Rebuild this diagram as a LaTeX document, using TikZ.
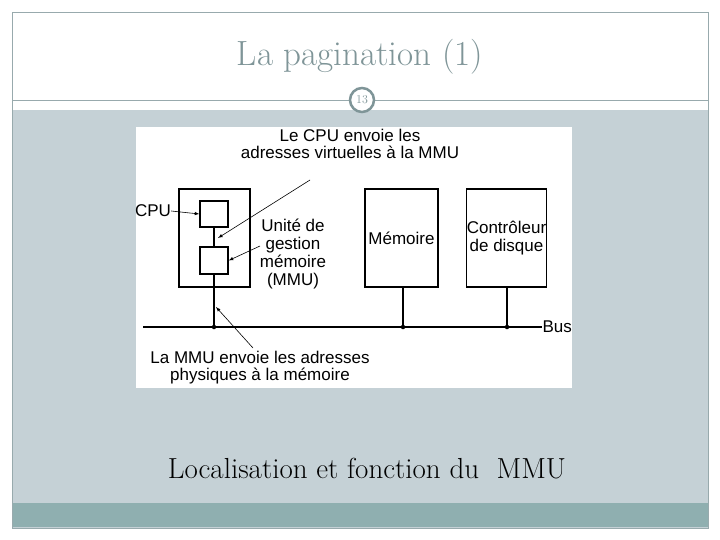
\documentclass[tikz,border=0pt]{standalone}
\usepackage{fontspec}
\newfontfamily\sans{Liberation Sans}
\begin{document}
\begin{tikzpicture}[x=1pt,y=-1pt,
 bx/.style={draw,line width=1.3pt},
 t/.style={font=\sans\fontsize{17}{17}\selectfont,align=center,inner sep=0pt},
 ln/.style={line width=1.3pt},
 ar/.style={-latex,line width=0.6pt},
 dot/.style={circle,fill,inner sep=1.6pt}]
\definecolor{panel}{HTML}{C5D1D6}
\definecolor{band}{HTML}{8FAFB0}
\definecolor{tgray}{HTML}{7F9598}
\useasboundingbox (0,0) rectangle (720,540);
\fill[white] (0,0) rectangle (720,540);
\fill[panel] (12,110) rectangle (708,528);
\fill[band] (12,503) rectangle (708,527);
\draw[tgray!80] (12,12) rectangle (708,528);
\draw[tgray!80] (12,100) -- (708,100);
\node[circle,draw=tgray,line width=2.5pt,fill=white,minimum size=24pt,inner sep=0pt,font=\fontsize{12}{12}\selectfont,text=tgray] (pg) at (362,100) {13};
\node[text=tgray,font=\fontsize{35}{38}\selectfont] (title) at (360,57) {La pagination (1)};
\fill[white] (136,127) rectangle (572,388);
\node[bx,minimum width=71pt,minimum height=98pt] (outer) at (214.5,238) {};
\node[bx,minimum width=28pt,minimum height=26pt,inner sep=0pt] (cpu) at (214,214) {};
\node[bx,minimum width=28pt,minimum height=27pt,inner sep=0pt] (mmu) at (214,260.5) {};
\node[bx,minimum width=73pt,minimum height=98pt,t] (mem) at (401.5,238) {Mémoire};
\node[bx,minimum width=73pt,minimum height=98pt,t] (ctl) at (506.5,238) {Contrôleur\\[1pt]de disque};
\coordinate (bl) at (143,327);
\node[t,anchor=east] (bus) at (572,327) {Bus};
\draw[ln] (bl) -- (bus.west);
\node[dot] (d1) at (214,327) {};
\node[dot] (d2) at (403,327) {};
\node[dot] (d3) at (507,327) {};
\draw[ln] (mmu.south) -- (d1);
\draw[ln] (mem.south -| d2) -- (d2);
\draw[ln] (ctl.south -| d3) -- (d3);
\draw[ln] (cpu.south) -- (mmu.north);
\node[t] (cpul) at (153,211) {CPU};
\draw[ar] (cpul.east) -- (cpu.west);
\node[t] (top) at (350,144) {Le CPU envoie les\\[0pt]adresses virtuelles à la MMU};
\draw[ar] (310,180) -- (218,238);
\node[t] (ml) at (293,254) {Unité de\\[1pt]gestion\\[1pt]mémoire\\[1pt](MMU)};
\draw[ar] (260,246) -- (mmu.east);
\node[t] (bot) at (260,368) {La MMU envoie les adresses\\[0pt]physiques à la mémoire};
\draw[ar] (253,348) -- (216,307);
\node[font=\fontsize{29}{32}\selectfont] (cap) at (367,469) {Localisation et fonction du\ \ MMU};
\end{tikzpicture}
\end{document}
